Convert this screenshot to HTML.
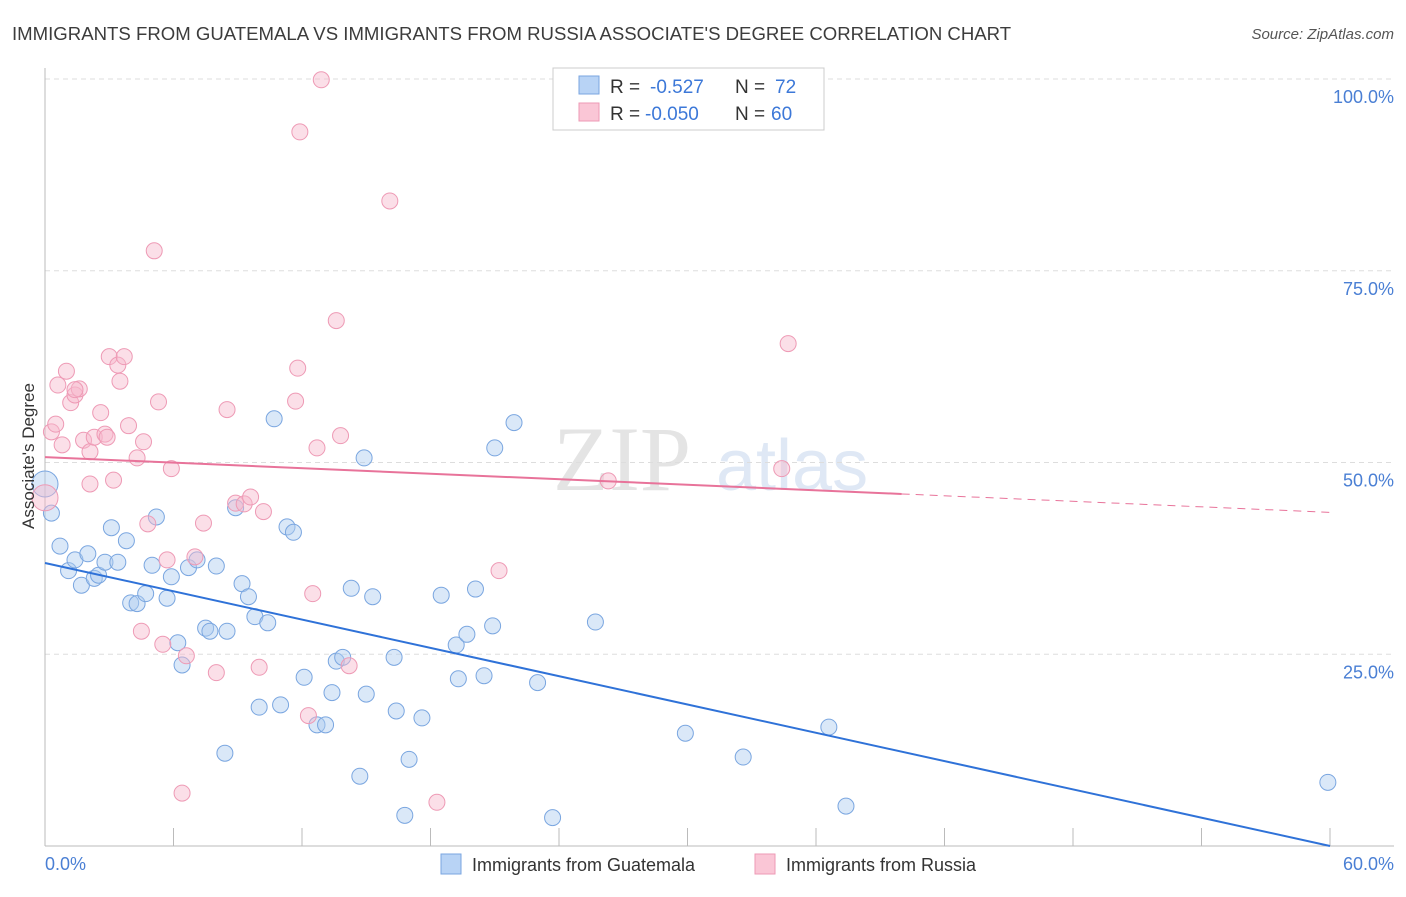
<!DOCTYPE html>
<html><head><meta charset="utf-8"><style>
body{margin:0;background:#fff;font-family:"Liberation Sans",sans-serif}
</style></head><body>
<svg width="1406" height="892" viewBox="0 0 1406 892" xmlns="http://www.w3.org/2000/svg">
<text x="12" y="40" font-size="18.6" fill="#3c3c3c">IMMIGRANTS FROM GUATEMALA VS IMMIGRANTS FROM RUSSIA ASSOCIATE'S DEGREE CORRELATION CHART</text>
<text x="1394" y="39" font-size="15" fill="#555" text-anchor="end" font-style="italic">Source: ZipAtlas.com</text>
<text x="553" y="490" font-size="92" fill="#e4e4e4" font-family="Liberation Serif,serif">ZIP</text>
<text x="716" y="490" font-size="72" fill="#dfe8f5">atlas</text>
<g id="grid"></g>
<g id="axes"></g>
<g id="marks"></g>
<text transform="translate(34,456) rotate(-90)" font-size="17" fill="#333" text-anchor="middle">Associate's Degree</text>
<text x="45" y="870" font-size="18" fill="#4a7fd4">0.0%</text>
<text x="1394" y="870" font-size="18" fill="#4a7fd4" text-anchor="end">60.0%</text>
<g>
<rect x="553" y="68" width="271" height="62" fill="#fff" stroke="#ccc"/>
<rect x="579" y="76" width="20" height="18" fill="#b8d3f5" stroke="#7aa6e0"/>
<rect x="579" y="103" width="20" height="18" fill="#fac6d6" stroke="#ee9ab5"/>
<text x="610" y="93" font-size="19" fill="#333">R =</text>
<text x="650" y="93" font-size="19" fill="#3c78d8">-0.527</text>
<text x="735" y="93" font-size="19" fill="#333">N =</text>
<text x="775" y="93" font-size="19" fill="#3c78d8">72</text>
<text x="610" y="120" font-size="19" fill="#333">R =</text>
<text x="645" y="120" font-size="19" fill="#3c78d8">-0.050</text>
<text x="735" y="120" font-size="19" fill="#333">N =</text>
<text x="771" y="120" font-size="19" fill="#3c78d8">60</text>
</g>
<g>
<rect x="441" y="854" width="20" height="20" fill="#b8d3f5" stroke="#7aa6e0"/>
<text x="472" y="871" font-size="18" fill="#333">Immigrants from Guatemala</text>
<rect x="755" y="854" width="20" height="20" fill="#fac6d6" stroke="#ee9ab5"/>
<text x="786" y="871" font-size="18" fill="#333">Immigrants from Russia</text>
</g>
</svg>
<script>
const yTicks=[25,50,75,100];
const yTickLabels=["25.0%","50.0%","75.0%","100.0%"];
const xTicks=[0,6,12,18,24,30,36,42,48,54,60];
const blueX=[0,0.3,0.7,1.1,1.4,1.7,2.0,2.3,2.5,2.8,3.1,3.4,3.8,4.0,4.3,4.7,5.0,5.2,5.7,5.9,6.2,6.4,6.7,7.1,7.5,7.7,8.0,8.4,8.5,8.9,9.2,9.5,9.8,10.0,10.4,10.7,11.0,11.3,11.6,12.1,12.7,13.1,13.4,13.6,13.9,14.3,14.7,14.9,15.0,15.3,16.3,16.4,16.8,17.0,17.6,18.5,19.2,19.3,19.7,20.1,20.5,20.9,21.0,21.9,23.0,23.7,25.7,29.9,32.6,36.6,37.4,59.9];
const blueY=[47.2,43.4,39.1,35.9,37.3,34.0,38.1,34.9,35.3,37.0,41.5,37.0,39.8,31.7,31.6,32.9,36.6,42.9,32.3,35.1,26.5,23.6,36.3,37.3,28.4,28.0,36.5,12.1,28.0,44.1,34.2,32.5,29.9,18.1,29.1,55.7,18.4,41.6,40.9,22.0,15.8,15.8,20.0,24.1,24.6,33.6,9.1,50.6,19.8,32.5,24.6,17.6,4.0,11.3,16.7,32.7,26.2,21.8,27.6,33.5,22.2,28.7,51.9,55.2,21.3,3.7,29.2,14.7,11.6,15.5,5.2,8.3];
const pinkX=[0,0.3,0.5,0.6,0.8,1.0,1.2,1.4,1.6,1.8,2.1,2.1,2.3,2.6,2.8,2.9,3.0,3.2,3.4,3.5,3.7,3.9,4.3,4.5,4.6,4.8,5.1,5.3,5.5,5.7,5.9,6.4,6.6,7.0,7.4,8.0,8.5,8.9,9.3,9.6,10.0,10.2,11.8,11.7,11.9,12.3,12.5,12.7,12.9,13.6,13.8,14.2,16.1,18.3,21.2,26.3,34.4,34.7,1.4];
const pinkY=[45.4,54.0,55.0,60.1,52.3,61.9,57.8,58.8,59.6,52.9,47.2,51.4,53.3,56.5,53.7,53.3,63.8,47.7,62.7,60.6,63.8,54.8,50.6,28.0,52.7,42.0,77.6,57.9,26.3,37.3,49.2,6.9,24.8,37.7,42.1,22.6,56.9,44.7,44.6,45.5,23.3,43.6,62.3,58.0,93.1,17.0,32.9,51.9,99.9,68.5,53.5,23.5,84.1,5.7,35.9,47.6,49.2,65.5,59.5];
const blueTrend=[36.9,0];
const pinkTrend=[50.7,43.5];
const pinkSolidEnd=40;
const NS="http://www.w3.org/2000/svg";
const X0=45,X1=1330,Y0=846,Y100=79;
function sx(v){return X0+(X1-X0)*v/60;}
function sy(v){return Y0-(Y0-Y100)*v/100;}
function mk(tag,attrs,parent){const e=document.createElementNS(NS,tag);for(const k in attrs)e.setAttribute(k,attrs[k]);parent.appendChild(e);return e;}
const grid=document.getElementById('grid'),axes=document.getElementById('axes'),marks=document.getElementById('marks');
yTicks.forEach((t,i)=>{
 const l=mk('line',{x1:45,x2:1394,y1:sy(t),y2:sy(t),stroke:'#ddd','stroke-dasharray':'5,4'},grid);
 
 
 const tx=mk('text',{x:1394,y:sy(t)+24,'font-size':18,fill:'#4a7fd4','text-anchor':'end'},grid);
 tx.textContent=yTickLabels[i];
 
 
});
const ya=mk('line',{x1:45,x2:45,y1:68,y2:846,stroke:'#bbb'},axes);


const xa=mk('line',{x1:45,x2:1394,y1:846,y2:846,stroke:'#bbb'},axes);


xTicks.forEach(t=>{
 const l=mk('line',{x1:sx(t),x2:sx(t),y1:828,y2:846,stroke:'#bbb'},axes);
 
 
});
function dots(xs,ys,fill,stroke,name){
 xs.forEach((x,i)=>{
  const big=(x===0);
  const c=mk('circle',{cx:sx(x),cy:sy(ys[i]),r:big?13:8,fill:fill,'fill-opacity':0.45,stroke:stroke,'stroke-width':1},marks);
  
  
 });
}
dots(blueX,blueY,'#aecbf0','#7aa6e0','guatemala-point');
dots(pinkX,pinkY,'#f7b8cc','#ee9ab5','russia-point');
const bt=mk('line',{x1:sx(0),y1:sy(blueTrend[0]),x2:sx(60),y2:sy(blueTrend[1]),stroke:'#2f72d8','stroke-width':2},marks);


const pm=pinkTrend[0]+(pinkTrend[1]-pinkTrend[0])*pinkSolidEnd/60;
const pt=mk('line',{x1:sx(0),y1:sy(pinkTrend[0]),x2:sx(pinkSolidEnd),y2:sy(pm),stroke:'#e8739a','stroke-width':2},marks);


const pd=mk('line',{x1:sx(pinkSolidEnd),y1:sy(pm),x2:sx(60),y2:sy(pinkTrend[1]),stroke:'#e8739a','stroke-width':1,'stroke-dasharray':'8,6'},marks);


</script>
</body></html>
